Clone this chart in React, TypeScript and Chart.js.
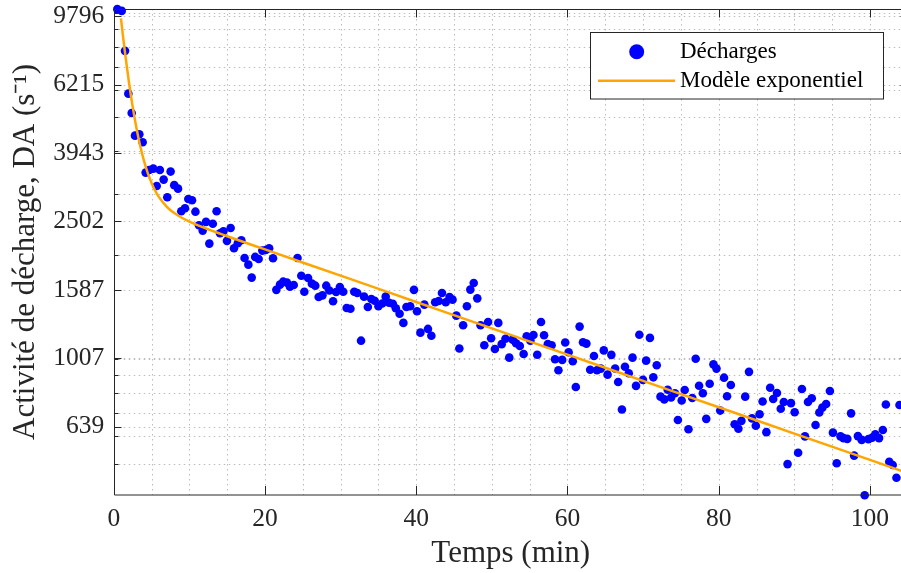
import { useEffect, useRef } from 'react';
import { Chart, registerables } from 'chart.js';

Chart.register(...registerables);

// ---- data ----
const times = [
  0.47, 1.05, 1.49, 1.93, 2.37, 2.81, 3.38, 3.82, 4.22, 4.7, 5.23, 5.68, 6.1, 6.6, 7.08, 7.52, 8.0, 8.5, 8.93, 9.42,
  9.86, 10.35, 10.8, 11.27, 11.76, 12.2, 12.64, 13.1, 13.6, 14.05, 14.5, 14.97, 15.46, 15.9, 16.4, 16.87, 17.3, 17.8, 18.24, 18.7,
  19.16, 19.65, 20.1, 20.55, 21.06, 21.5, 21.98, 22.4, 22.9, 23.3, 23.8, 24.3, 24.8, 25.2, 25.7, 26.2, 26.65, 27.1, 27.6, 28.1,
  28.5, 29.0, 29.4, 29.9, 30.35, 30.8, 31.3, 31.8, 32.2, 32.7, 33.1, 33.6, 34.06, 34.5, 35.0, 35.5, 35.96, 36.4, 36.9, 37.3,
  37.8, 38.3, 38.7, 39.2, 39.7, 40.1, 40.55, 41.07, 41.55, 42.0, 42.5, 42.97, 43.4, 43.9, 44.4, 44.8, 45.3, 45.7, 46.2, 46.7,
  47.15, 47.6, 48.07, 48.5, 49.0, 49.5, 49.9, 50.4, 50.85, 51.3, 51.8, 52.3, 52.75, 53.2, 53.7, 54.2, 54.6, 55.1, 55.5, 56.0,
  56.5, 56.9, 57.4, 57.9, 58.35, 58.8, 59.3, 59.7, 60.15, 60.7, 61.1, 61.6, 62.05, 62.5, 63.0, 63.5, 63.9, 64.4, 64.8, 65.3,
  65.8, 66.3, 66.7, 67.2, 67.6, 68.1, 68.6, 69.06, 69.5, 69.98, 70.4, 70.9, 71.35, 71.8, 72.3, 72.8, 73.25, 73.7, 74.2, 74.6,
  75.1, 75.5, 76.0, 76.5, 76.95, 77.4, 77.9, 78.35, 78.8, 79.3, 79.7, 80.2, 80.7, 81.1, 81.6, 82.1, 82.6, 83.0, 83.5, 84.0,
  84.4, 84.9, 85.4, 85.8, 86.3, 86.8, 87.2, 87.7, 88.2, 88.6, 89.1, 89.55, 90.04, 90.5, 91.0, 91.4, 91.8, 92.3, 92.8, 93.3,
  93.7, 94.2, 94.7, 95.1, 95.6, 96.1, 96.5, 97.0, 97.5, 97.9, 98.4, 98.9, 99.3, 99.8, 100.3, 100.7, 101.2, 101.7, 102.1, 102.55,
  103.0, 103.5, 103.9,
];

const discharges = [
  10270, 10150, 7781, 5854, 5149, 4427, 4468, 4237, 3462, 3524, 3555, 3167, 3524, 3305, 2938, 3486, 3185, 3112, 2677, 2732,
  2906, 2880, 2670, 2440, 2354, 2495, 2159, 2465, 2677, 2313, 2345, 2199, 2396, 2094, 2164, 2208, 1962, 1877, 1722, 1976,
  1948, 2061, 2070, 2094, 1959, 1587, 1643, 1676, 1665, 1621, 1640, 1962, 1744, 1568, 1717, 1654, 1632, 1514, 1530, 1632,
  1580, 1471, 1565, 1618, 1568, 1407, 1400, 1568, 1555, 1132, 1517, 1416, 1494, 1476, 1423, 1450, 1517, 1457, 1447, 1404,
  1354, 1274, 1416, 1423, 1587, 1377, 1194, 1439, 1224, 1170, 1461, 1474, 1555, 1461, 1514, 1487, 1337, 1074, 1254, 1423,
  1590, 1662, 1500, 1254, 1098, 1282, 1150, 1071, 1274, 1106, 1146, 1011, 1140, 1113, 1093, 1036, 1166, 1132, 1176, 1031,
  1282, 1173, 1106, 1098, 1000, 930, 996, 1118, 1048, 987, 832, 1243, 1120, 1110, 933, 1022, 930, 940, 1061, 903,
  1030, 941, 860, 716, 952, 911, 1011, 838, 1178, 872, 991, 1153, 887, 961, 780, 766, 817, 776, 798, 668,
  760, 815, 628, 773, 1004, 839, 798, 673, 850, 967, 940, 711, 885, 782, 843, 649, 630, 664, 780, 920,
  675, 643, 694, 755, 616, 828, 768, 799, 720, 753, 498, 747, 703, 537, 821, 599, 753, 772, 646, 702,
  725, 743, 810, 614, 501, 599, 592, 589, 698, 527, 600, 585, 405, 588, 594, 607, 592, 625, 740, 506,
  495, 455, 738,
];

const modelTimes = [0.95, 1.25, 1.5, 2, 2.5, 3, 3.5, 4, 4.5, 5, 5.5, 6, 7, 7.5, 8, 9, 10, 12, 15, 20, 30, 40, 50, 60, 70, 80, 90, 100, 105];
const modelValues = [9656, 8479, 7653, 6337, 5370, 4658, 4132, 3742, 3450, 3232, 3063, 2936, 2760, 2695, 2645, 2564, 2500, 2396, 2267, 2077, 1744, 1464, 1229, 1032, 866, 727, 610, 512, 469];

const yMajorTicks = [639, 1007, 1587, 2502, 3943, 6215, 9796];
const yMinorTicks = [500, 600, 700, 800, 900, 1000, 2000, 3000, 4000, 5000, 6000, 7000, 8000, 9000, 10000];
const xLabelEvery = 20;
const xGridStep = 5;

const seriesLabels = ['Décharges', 'Modèle exponentiel'];
const xTitle = 'Temps (min)';
const yTitle = 'Activité de décharge, DA (s⁻¹)';

const FONT = "'Liberation Serif', 'Times New Roman', serif";
const INK = '#262626';
const BLUE = '#0000ff';
const ORANGE = '#ffa500';

const axesFrame = {
  id: 'axesFrame',
  beforeDatasetsDraw(chart: any) {
    const { ctx, chartArea: a } = chart;
    const xs = chart.scales.x;
    const ys = chart.scales.y;
    ctx.save();
    ctx.beginPath();
    ctx.rect(a.left, a.top, a.right - a.left, a.bottom - a.top);
    ctx.clip();
    ctx.strokeStyle = '#bcbcbc';
    ctx.lineWidth = 1;
    ctx.setLineDash([1.5, 3.5]);
    ctx.beginPath();
    for (const t of xs.ticks) {
      const p = Math.round(xs.getPixelForValue(t.value)) + 0.5;
      ctx.moveTo(p, a.top);
      ctx.lineTo(p, a.bottom);
    }
    for (const t of ys.ticks) {
      const p = Math.round(ys.getPixelForValue(t.value)) + 0.5;
      ctx.moveTo(a.left, p);
      ctx.lineTo(a.right, p);
    }
    ctx.stroke();
    ctx.restore();
  },
  afterDatasetsDraw(chart: any) {
    const { ctx, chartArea: a } = chart;
    const xs = chart.scales.x;
    const ys = chart.scales.y;
    const L = Math.round(a.left) + 0.5;
    const R = Math.round(a.right) - 0.5;
    const T = Math.round(a.top) + 0.5;
    const B = Math.round(a.bottom);
    ctx.save();
    ctx.setLineDash([]);
    ctx.strokeStyle = INK;
    ctx.lineWidth = 1;
    ctx.beginPath();
    ctx.moveTo(L, B); ctx.lineTo(L, T); ctx.lineTo(R, T); ctx.lineTo(R, B);
    ctx.moveTo(L, B); ctx.lineTo(R, B);
    for (const t of ys.ticks) {
      const p = Math.round(ys.getPixelForValue(t.value)) + 0.5;
      const len = yMajorTicks.includes(t.value) ? 7 : 4;
      ctx.moveTo(L, p); ctx.lineTo(L + len, p);
      ctx.moveTo(R, p); ctx.lineTo(R - len, p);
    }
    for (const t of xs.ticks) {
      if (t.value % xLabelEvery !== 0) continue;
      const p = Math.round(xs.getPixelForValue(t.value)) + 0.5;
      ctx.moveTo(p, B); ctx.lineTo(p, B - 9);
      ctx.moveTo(p, T); ctx.lineTo(p, T + 8);
    }
    ctx.stroke();
    ctx.restore();
  },
  afterDraw(chart: any) {
    const { ctx } = chart;
    const ds = chart.data.datasets;
    ctx.save();
    // legend box
    ctx.fillStyle = '#ffffff';
    ctx.fillRect(590.5, 32.5, 293, 66.5);
    ctx.strokeStyle = INK;
    ctx.lineWidth = 1;
    ctx.strokeRect(590.5, 32.5, 293, 66.5);
    // scatter entry
    ctx.fillStyle = ds[1].backgroundColor;
    ctx.beginPath();
    ctx.arc(636.7, 51.7, 7.5, 0, Math.PI * 2);
    ctx.fill();
    // line entry
    ctx.strokeStyle = ds[0].borderColor;
    ctx.lineWidth = 2.5;
    ctx.beginPath();
    ctx.moveTo(598, 80.7);
    ctx.lineTo(675, 80.7);
    ctx.stroke();
    ctx.fillStyle = '#000000';
    ctx.font = `23px ${FONT}`;
    ctx.textAlign = 'left';
    ctx.textBaseline = 'middle';
    ctx.fillText(ds[1].label, 680, 51.5);
    ctx.fillText(ds[0].label, 680, 81);
    ctx.restore();
  },
};

export default function App() {
  const ref = useRef<HTMLCanvasElement | null>(null);

  useEffect(() => {
    if (!ref.current) return;
    const chart = new Chart(ref.current, {
      type: 'scatter',
      data: {
        datasets: [
          {
            type: 'line',
            label: seriesLabels[1],
            data: modelTimes.map((t, i) => ({ x: t, y: modelValues[i] })),
            borderColor: ORANGE,
            backgroundColor: ORANGE,
            borderWidth: 2.5,
            pointRadius: 0,
            fill: false,
            cubicInterpolationMode: 'monotone',
            order: 0,
          } as any,
          {
            type: 'scatter',
            label: seriesLabels[0],
            data: times.map((t, i) => ({ x: t, y: discharges[i] })),
            backgroundColor: BLUE,
            borderColor: BLUE,
            borderWidth: 0,
            pointRadius: 4.3,
            clip: false,
            order: 1,
          } as any,
        ],
      },
      options: {
        responsive: false,
        maintainAspectRatio: false,
        devicePixelRatio: 1,
        animation: false,
        events: [],
        layout: { padding: { top: 9, right: 7.2, left: 0, bottom: 0 } },
        plugins: { legend: { display: false }, tooltip: { enabled: false } },
        scales: {
          x: {
            type: 'linear',
            min: 0,
            max: 105,
            grid: { display: false, drawTicks: false },
            border: { display: false },
            ticks: {
              stepSize: xGridStep,
              autoSkip: false,
              maxRotation: 0,
              padding: 9,
              color: INK,
              font: { family: FONT, size: 25.5 },
              callback: (v: any) => (Number(v) % xLabelEvery === 0 ? String(v) : ''),
            },
            title: {
              display: true,
              text: xTitle,
              color: INK,
              font: { family: FONT, size: 31 },
              padding: { top: 0, bottom: 1 },
            },
            afterFit: (s: any) => {
              s.height = 78;
              s.paddingLeft = 0;
              s.paddingRight = 0;
            },
          },
          y: {
            type: 'logarithmic',
            min: 405.5,
            max: 10280,
            grid: { display: false, drawTicks: false },
            border: { display: false },
            afterBuildTicks: (s: any) => {
              s.ticks = [...yMinorTicks, ...yMajorTicks].sort((p, q) => p - q).map((v) => ({ value: v }));
            },
            ticks: {
              autoSkip: false,
              padding: 9.5,
              color: INK,
              font: { family: FONT, size: 25.5 },
              callback: (v: any) => (yMajorTicks.includes(Number(v)) ? String(v) : ''),
            },
            title: {
              display: true,
              text: yTitle,
              color: INK,
              font: { family: FONT, size: 31 },
              padding: { top: 7, bottom: 0 },
            },
            afterFit: (s: any) => {
              s.width = 113.75;
              s.paddingTop = 0;
              s.paddingBottom = 0;
            },
          },
        },
      } as any,
      plugins: [axesFrame],
    });
    return () => chart.destroy();
  }, []);

  return (
    <div style={{ position: 'fixed', left: 0, top: 0, width: 901, height: 573, overflow: 'hidden', background: '#fff' }}>
      <canvas ref={ref} width={915} height={573} style={{ display: 'block', width: 915, height: 573 }} />
    </div>
  );
}
